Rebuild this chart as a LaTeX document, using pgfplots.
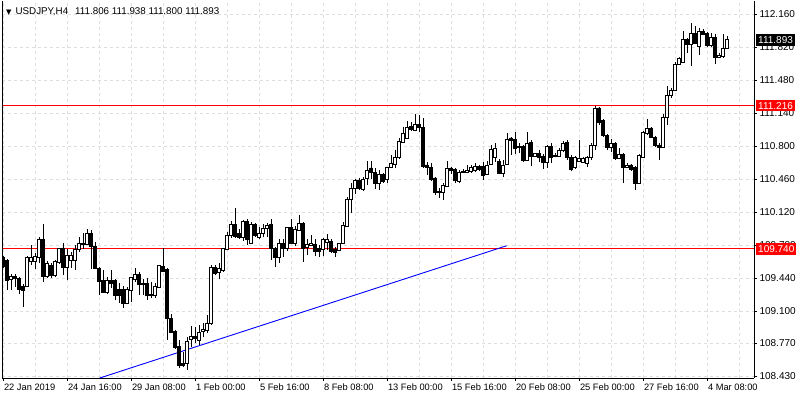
\documentclass[border=0pt]{standalone}
\usepackage{fontspec}
\setmainfont{Liberation Sans}
\newfontfamily\dejavu{DejaVu Sans}
\usepackage{pgfplots}
\usepackage{pgfplotstable}
\pgfplotsset{compat=1.18}

\pgfplotstableread{
i o h l c
0 109.650 109.667 109.544 109.557
1 109.626 109.636 109.317 109.420
2 109.430 109.482 109.317 109.461
3 109.461 109.482 109.348 109.433
4 109.441 109.451 109.276 109.327
5 109.358 109.379 109.142 109.317
6 109.358 109.667 109.348 109.657
7 109.616 109.780 109.574 109.657
8 109.616 109.698 109.533 109.667
9 109.657 109.863 109.595 109.842
10 109.842 109.997 109.399 109.461
11 109.461 109.616 109.441 109.595
12 109.574 109.595 109.441 109.471
13 109.471 109.626 109.451 109.616
14 109.605 109.750 109.585 109.750
15 109.750 109.801 109.471 109.554
16 109.554 109.740 109.420 109.678
17 109.626 109.709 109.544 109.678
18 109.626 109.780 109.523 109.740
19 109.740 109.863 109.709 109.801
20 109.791 109.904 109.740 109.801
21 109.791 109.945 109.780 109.904
22 109.904 109.935 109.533 109.770
23 109.770 109.811 109.533 109.544
24 109.544 109.554 109.265 109.410
25 109.420 109.523 109.286 109.296
26 109.296 109.451 109.276 109.420
27 109.420 109.523 109.338 109.389
28 109.420 109.430 109.214 109.265
29 109.327 109.389 109.183 109.265
30 109.327 109.358 109.132 109.183
31 109.183 109.348 109.173 109.327
32 109.317 109.451 109.193 109.451
33 109.430 109.544 109.399 109.482
34 109.482 109.502 109.265 109.379
35 109.389 109.430 109.265 109.379
36 109.389 109.441 109.214 109.265
37 109.276 109.399 109.235 109.265
38 109.265 109.389 109.235 109.358
39 109.348 109.574 109.338 109.574
40 109.564 109.745 109.513 109.513
41 109.533 109.544 108.802 109.029
42 109.029 109.070 108.874 108.884
43 108.895 108.905 108.709 108.730
44 108.740 108.802 108.514 108.545
45 108.565 108.678 108.524 108.545
46 108.565 108.833 108.493 108.792
47 108.812 108.946 108.730 108.843
48 108.843 108.936 108.771 108.823
49 108.802 108.957 108.750 108.884
50 108.895 108.977 108.833 108.915
51 108.905 109.060 108.874 108.977
52 108.977 109.574 108.957 109.554
53 109.554 109.574 109.471 109.492
54 109.502 109.595 109.430 109.544
55 109.523 109.750 109.502 109.750
56 109.740 109.914 109.729 109.884
57 109.884 110.028 109.853 109.997
58 109.997 110.162 109.853 109.873
59 109.904 109.945 109.842 109.863
60 109.863 110.038 109.822 110.028
61 110.028 110.048 109.780 109.842
62 109.801 110.018 109.796 109.997
63 109.997 110.007 109.863 109.884
64 109.863 109.966 109.842 109.904
65 109.904 109.997 109.863 109.956
66 109.956 110.007 109.863 109.987
67 109.997 110.048 109.626 109.750
68 109.750 109.760 109.554 109.657
69 109.657 109.842 109.595 109.801
70 109.801 109.842 109.657 109.750
71 109.750 109.966 109.719 109.966
72 109.966 110.048 109.796 109.801
73 109.801 109.976 109.770 109.945
74 109.935 110.090 109.925 110.007
75 110.007 110.018 109.605 109.750
76 109.760 109.842 109.678 109.791
77 109.780 109.884 109.775 109.801
78 109.791 109.842 109.667 109.719
79 109.750 109.780 109.657 109.719
80 109.740 109.853 109.667 109.842
81 109.811 109.894 109.729 109.842
82 109.822 109.842 109.698 109.719
83 109.740 109.760 109.657 109.709
84 109.729 109.801 109.719 109.801
85 109.801 110.018 109.791 109.987
86 109.976 110.275 109.966 110.254
87 110.254 110.419 110.110 110.368
88 110.368 110.460 110.306 110.450
89 110.450 110.471 110.347 110.368
90 110.357 110.481 110.337 110.460
91 110.471 110.646 110.399 110.553
92 110.574 110.646 110.460 110.532
93 110.532 110.574 110.357 110.419
94 110.419 110.553 110.347 110.512
95 110.512 110.522 110.419 110.440
96 110.460 110.584 110.419 110.584
97 110.584 110.708 110.574 110.625
98 110.615 110.759 110.574 110.687
99 110.687 110.883 110.667 110.852
100 110.841 110.996 110.831 110.934
101 110.883 111.058 110.872 110.996
102 111.006 111.047 110.955 110.975
103 110.965 111.130 110.955 111.027
104 111.027 111.119 110.944 110.996
105 110.996 111.089 110.574 110.594
106 110.605 110.636 110.502 110.584
107 110.584 110.625 110.440 110.460
108 110.471 110.481 110.296 110.327
109 110.337 110.368 110.265 110.327
110 110.327 110.419 110.244 110.399
111 110.388 110.646 110.378 110.574
112 110.574 110.584 110.512 110.553
113 110.563 110.574 110.419 110.450
114 110.440 110.553 110.419 110.532
115 110.532 110.563 110.522 110.543
116 110.532 110.605 110.522 110.553
117 110.543 110.605 110.522 110.584
118 110.553 110.625 110.532 110.594
119 110.594 110.605 110.543 110.563
120 110.594 110.636 110.450 110.502
121 110.512 110.646 110.502 110.605
122 110.615 110.811 110.605 110.769
123 110.687 110.831 110.636 110.780
124 110.646 110.667 110.512 110.522
125 110.522 110.656 110.481 110.605
126 110.615 110.934 110.605 110.872
127 110.883 110.893 110.708 110.862
128 110.872 110.944 110.718 110.780
129 110.800 110.831 110.728 110.790
130 110.800 110.811 110.636 110.656
131 110.656 110.944 110.646 110.831
132 110.841 110.862 110.594 110.697
133 110.697 110.732 110.687 110.728
134 110.728 110.759 110.636 110.687
135 110.697 110.718 110.563 110.636
136 110.636 110.811 110.574 110.800
137 110.800 110.831 110.625 110.687
138 110.697 110.728 110.687 110.708
139 110.697 110.780 110.687 110.759
140 110.759 110.852 110.739 110.831
141 110.841 110.862 110.656 110.687
142 110.687 110.708 110.543 110.563
143 110.584 110.697 110.563 110.687
144 110.646 110.862 110.636 110.677
145 110.636 110.687 110.625 110.677
146 110.625 110.697 110.584 110.687
147 110.687 110.831 110.656 110.811
148 110.811 111.216 110.759 111.192
149 111.192 111.202 111.016 111.047
150 111.068 111.078 110.893 110.913
151 110.913 110.924 110.759 110.790
152 110.790 110.872 110.739 110.831
153 110.831 110.841 110.656 110.677
154 110.677 110.780 110.667 110.718
155 110.718 110.728 110.419 110.584
156 110.584 110.625 110.579 110.605
157 110.605 110.615 110.543 110.563
158 110.584 110.594 110.347 110.419
159 110.419 110.718 110.409 110.708
160 110.687 110.950 110.682 110.944
161 110.934 111.078 110.913 110.986
162 110.986 110.996 110.883 110.893
163 110.893 110.903 110.790 110.811
164 110.811 110.831 110.656 110.790
165 110.790 111.130 110.780 111.099
166 111.099 111.418 111.016 111.325
167 111.325 111.398 111.295 111.377
168 111.377 111.665 111.367 111.645
169 111.645 111.717 111.634 111.707
170 111.665 111.985 111.665 111.902
171 111.902 111.913 111.758 111.851
172 111.851 112.067 111.624 111.964
173 111.964 112.036 111.851 111.861
174 111.830 112.016 111.738 111.985
175 111.985 112.005 111.944 111.954
176 111.964 111.974 111.820 111.841
177 111.841 111.964 111.820 111.923
178 111.923 111.954 111.645 111.717
179 111.717 111.758 111.707 111.738
180 111.727 111.954 111.707 111.810
181 111.806 111.938 111.800 111.893
}\ohlc

\pgfplotsset{mt/.style={scale only axis, width=752pt, height=377pt,
  at={(2pt,22pt)}, anchor=south west,
  xmin=-0.25, xmax=187.75, ymin=108.411, ymax=112.294}}

\begin{document}
\begin{tikzpicture}[font=\fontsize{9}{11}\selectfont]
\useasboundingbox (0,0) rectangle (800pt,400pt);
\fill[white] (0,0) rectangle (800pt,400pt);
\begin{axis}[mt,
  axis x line*=bottom, axis y line*=right,
  tick align=outside, major tick length=3pt, minor tick length=0pt,
  xtick={0,16,...,176}, minor xtick={8,24,...,184},
  xticklabels={22 Jan 2019,24 Jan 16:00,29 Jan 08:00,1 Feb 00:00,5 Feb 16:00,8 Feb 08:00,13 Feb 00:00,15 Feb 16:00,20 Feb 08:00,25 Feb 00:00,27 Feb 16:00,4 Mar 08:00},
  ytick={108.43,108.77,109.10,109.44,109.78,110.12,110.46,110.80,111.14,111.48,111.82,112.16},
  yticklabels={108.430,108.770,109.100,109.440,109.780,110.120,110.460,110.800,111.140,111.480,111.820,112.160},
  grid=both,
  grid style={black!13, dash pattern=on 3pt off 3pt, line width=0.7pt},
  minor grid style={black!13, dash pattern=on 3pt off 3pt, line width=0.7pt},
  xticklabel style={anchor=north west, xshift=-2.5pt, yshift=1pt, font=\fontsize{9.3}{11}\selectfont},
  yticklabel style={anchor=west, xshift=-1pt, font=\fontsize{10}{12}\selectfont},
  axis line style={black, line width=0.8pt},
  tick style={black, line width=0.8pt},
]
\addplot[red, line width=1pt] coordinates {(-0.25,109.74) (187.75,109.74)};
\addplot[red, line width=1pt] coordinates {(-0.25,111.216) (187.75,111.216)};
\addplot[blue, line width=0.9pt] coordinates {(24.2,108.411) (125.9,109.773)};
\addplot[draw=none, mark=none, error bars/.cd, y dir=plus, y explicit,
  error mark=none, error bar style={draw=black, solid, line width=0.9pt}]
  table[x=i, y=l, y error expr=\thisrow{h}-\thisrow{l}] {\ohlc};
\end{axis}
\begin{axis}[mt, hide axis, ybar stacked, bar width=2.3pt]
\addplot[draw=none, fill=none] table[x=i, y expr={min(\thisrow{o},\thisrow{c})}] {\ohlc};
\addplot[draw=black, fill=white, line width=0.9pt] table[x=i, y expr={max(\thisrow{c}-\thisrow{o},0)}] {\ohlc};
\addplot[draw=black, fill=black, line width=0.9pt] table[x=i, y expr={max(\thisrow{o}-\thisrow{c},0)}] {\ohlc};
\end{axis}
\begin{axis}[mt, hide axis, clip mode=individual]
\draw[black, line width=0.8pt] (rel axis cs:0,0) -- (rel axis cs:0,1);
\node[anchor=west, fill=black, text=white, font=\fontsize{10}{12}\selectfont, inner xsep=2pt, inner ysep=0pt, minimum height=11.5pt, xshift=2pt] at (axis cs:187.75,111.893) {111.893};
\node[anchor=west, fill=red, text=white, font=\fontsize{10}{12}\selectfont, inner xsep=2pt, inner ysep=0pt, minimum height=11.5pt, xshift=2pt] at (axis cs:187.75,111.216) {111.216};
\node[anchor=west, fill=red, text=white, font=\fontsize{10}{12}\selectfont, inner xsep=2pt, inner ysep=0pt, minimum height=11.5pt, xshift=2pt] at (axis cs:187.75,109.74) {109.740};
\end{axis}
\node[anchor=base west, inner sep=0pt, font=\fontsize{9.8}{12}\selectfont] at (6pt,385pt) {{\dejavu\fontsize{7}{8}\selectfont ▼}\hspace{4pt}USDJPY,H4\hspace{7pt}111.806 111.938 111.800 111.893};
\end{tikzpicture}
\end{document}
